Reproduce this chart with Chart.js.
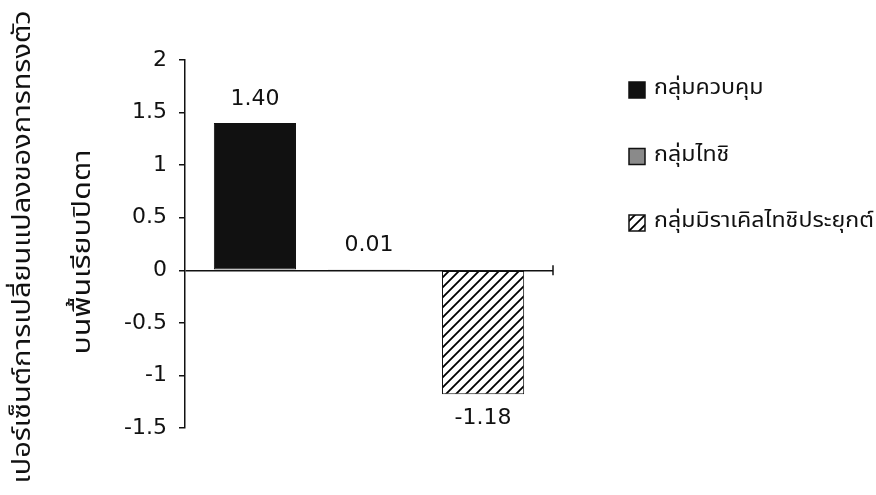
<!DOCTYPE html>
<html>
<head>
<meta charset="utf-8">
<script src="https://cdn.jsdelivr.net/npm/chart.js@4"></script>
<style>
  html, body { margin: 0; padding: 0; background: #fff; }
  #wrap { width: 876px; height: 495px; }
</style>
</head>
<body>
<div id="wrap"><canvas id="chart" width="876" height="495"></canvas></div>
<script>
// Groups and their mean change (%) in balance on a flat surface, eyes closed
const categories = [''];
const groupLabels = ['กลุ่มควบคุม', 'กลุ่มไทชิ', 'กลุ่มมิราเคิลไทชิประยุกต์'];
const groupValues = [1.40, 0.01, -1.18];
const yTickValues = [-1.5, -1, -0.5, 0, 0.5, 1, 1.5, 2];
const axisTitleLines = ['เปอร์เซ็นต์การเปลี่ยนแปลงของการทรงตัว', 'บนพื้นเรียบปิดตา'];

const NUM_FONT = '"DejaVu Sans", Verdana, sans-serif';
const THAI_FONT = '"Noto Sans Thai", "Noto Sans Thai UI", "Noto Sans", "DejaVu Sans", sans-serif';

// Diagonal hatch fill for the third group
function makeHatch() {
  const c = document.createElement('canvas');
  c.width = 10; c.height = 10;
  const g = c.getContext('2d');
  g.fillStyle = '#fff';
  g.fillRect(0, 0, 10, 10);
  g.strokeStyle = '#000';
  g.lineWidth = 1.8;
  g.beginPath();
  g.moveTo(-1, 11); g.lineTo(11, -1);
  g.moveTo(-6, 6); g.lineTo(6, -6);
  g.moveTo(4, 16); g.lineTo(16, 4);
  g.stroke();
  return g.createPattern(c, 'repeat');
}

const fills = ['#111111', '#8a8a8a', makeHatch()];

// Draw text stretched along its baseline to a given run length
function fitText(ctx, text, x, y, runLength) {
  const w = ctx.measureText(text).width;
  ctx.save();
  ctx.translate(x, y);
  ctx.scale(runLength / w, 1);
  ctx.fillText(text, 0, 0);
  ctx.restore();
}

// Value labels above/below each bar
const valueLabels = {
  id: 'valueLabels',
  afterDatasetsDraw(chart) {
    const ctx = chart.ctx;
    ctx.save();
    ctx.font = '22px ' + NUM_FONT;
    ctx.fillStyle = '#111';
    ctx.textAlign = 'center';
    ctx.textBaseline = 'middle';
    chart.data.datasets.forEach((ds, i) => {
      const bar = chart.getDatasetMeta(i).data[0];
      const v = ds.data[0];
      const y = v >= 0 ? Math.min(bar.y, bar.base) - 24 : Math.max(bar.y, bar.base) + 24;
      ctx.fillText(v.toFixed(2), bar.x, y);
    });
    ctx.restore();
  }
};

// Zero baseline end tick, rotated axis title and side legend
const decorations = {
  id: 'decorations',
  afterDraw(chart) {
    const ctx = chart.ctx;
    const area = chart.chartArea;
    const y0 = chart.scales.y.getPixelForValue(0);
    ctx.save();
    ctx.strokeStyle = '#111';
    ctx.lineWidth = 1.5;
    ctx.beginPath();
    ctx.moveTo(area.right, y0 - 5);
    ctx.lineTo(area.right, y0 + 5);
    ctx.stroke();

    // axis title, two rotated lines
    ctx.fillStyle = '#111';
    ctx.textAlign = 'center';
    ctx.textBaseline = 'middle';
    ctx.font = '24px ' + THAI_FONT;
    const titlePos = [[25, 247, 473], [85, 252, 205]];
    axisTitleLines.forEach((t, i) => {
      ctx.save();
      ctx.translate(titlePos[i][0], titlePos[i][1]);
      ctx.rotate(-Math.PI / 2);
      fitText(ctx, t, 0, 0, titlePos[i][2]);
      ctx.restore();
    });

    // legend
    ctx.font = '22px ' + THAI_FONT;
    ctx.textAlign = 'left';
    const longest = Math.max(...chart.data.datasets.map(d => ctx.measureText(d.label).width));
    const stretch = 220 / longest;
    chart.data.datasets.forEach((ds, i) => {
      const cy = 90 + i * 66.5;
      ctx.fillStyle = ds.backgroundColor;
      ctx.fillRect(629, cy - 8, 16, 16);
      ctx.strokeStyle = '#111';
      ctx.lineWidth = 1.5;
      ctx.strokeRect(629, cy - 8, 16, 16);
      ctx.fillStyle = '#111';
      fitText(ctx, ds.label, 654, cy, ctx.measureText(ds.label).width * stretch);
    });
    ctx.restore();
  }
};

new Chart(document.getElementById('chart'), {
  type: 'bar',
  data: {
    labels: categories,
    datasets: groupLabels.map((label, i) => ({
      label,
      data: [groupValues[i]],
      backgroundColor: fills[i],
      borderColor: '#111',
      borderWidth: 1,
      borderSkipped: false,
      categoryPercentage: 0.93,
      barPercentage: 0.72
    }))
  },
  options: {
    responsive: false,
    animation: false,
    layout: { padding: { left: 0, top: 60, right: 323, bottom: 67 } },
    plugins: { legend: { display: false }, tooltip: { enabled: false } },
    scales: {
      x: { display: false },
      y: {
        min: -1.5,
        max: 2,
        afterBuildTicks(scale) { scale.ticks = yTickValues.map(v => ({ value: v })); },
        afterFit(scale) { scale.width = 185; },
        border: { display: true, color: '#111', width: 1.5 },
        grid: {
          drawOnChartArea: true,
          drawTicks: true,
          tickLength: 6,
          color: c => (c.tick && c.tick.value === 0 ? '#111' : 'rgba(0,0,0,0)'),
          tickColor: '#111',
          lineWidth: 1.5,
          tickWidth: 1.5
        },
        ticks: {
          padding: 12,
          color: '#111',
          font: { family: NUM_FONT, size: 22 },
          callback: v => String(v)
        }
      }
    }
  },
  plugins: [valueLabels, decorations]
});
</script>
</body>
</html>
